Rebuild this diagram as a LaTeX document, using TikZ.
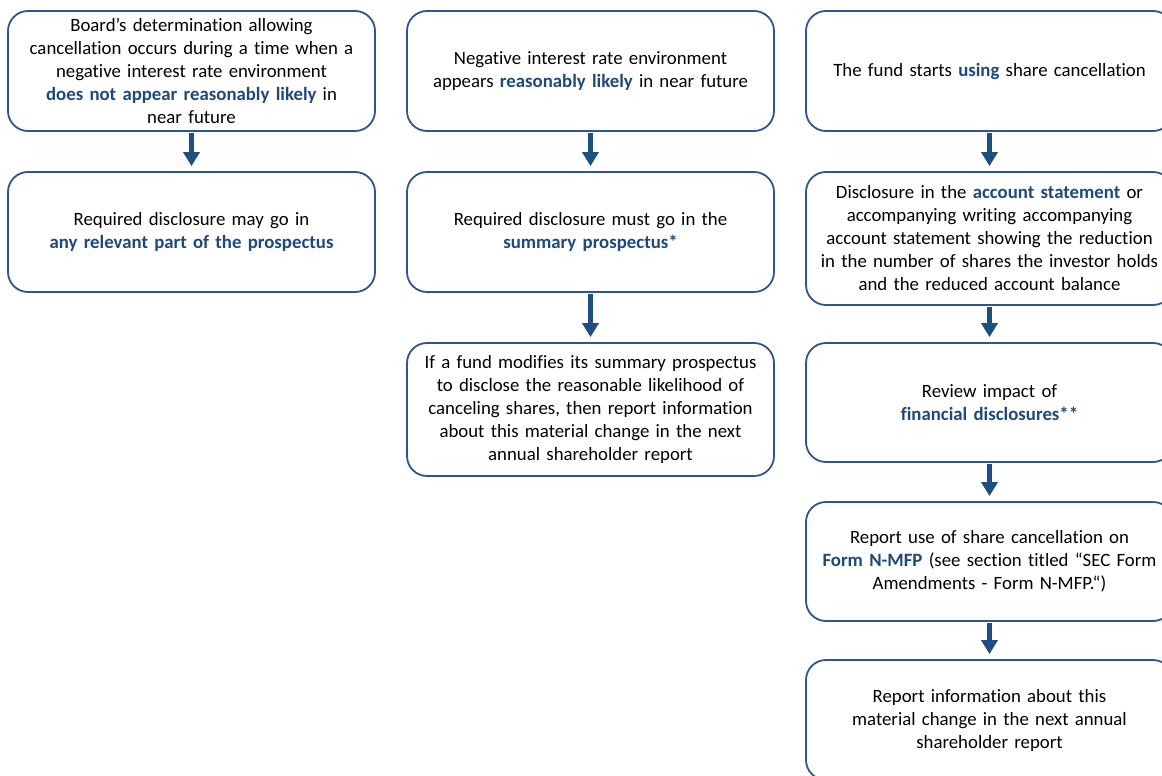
\documentclass[tikz,border=0pt]{standalone}
\usepackage{fontspec}
\setmainfont[Ligatures=NoCommon]{Carlito}
\usetikzlibrary{arrows.meta}
\definecolor{boxblue}{RGB}{47,85,140}
\definecolor{arrblue}{RGB}{31,78,130}
\definecolor{hlblue}{RGB}{31,73,125}
\newcommand\hl[1]{\textcolor{hlblue}{\bfseries #1}}
\tikzset{
  box/.style={draw=boxblue, line width=1.8pt, rounded corners=20pt, minimum width=367pt, fill=white,
    text width=362pt, align=center, font=\fontsize{18.8pt}{23pt}\selectfont, inner sep=0pt},
  arr/.style={draw=arrblue, line width=5pt, -{Triangle[width=16pt,length=14pt]}, shorten >=5pt, shorten <=1pt}
}
\begin{document}
\begin{tikzpicture}[x=1pt,y=-1pt]
\useasboundingbox (0,0) rectangle (1162,776);
\clip (0,0) rectangle (1162,776);
% column 1
\node[box, minimum height=120pt] (a1) at (191.5,71) {Board’s determination allowing\\cancellation occurs during a time when a\\negative interest rate environment\\\hl{does not appear reasonably likely} in\\near future};
\node[box, minimum height=120pt] (a2) at (191.5,232) {Required disclosure may go in\\\hl{any relevant part of the prospectus}};
% column 2
\node[box, minimum height=120pt] (b1) at (590.5,71) {Negative interest rate environment\\appears \hl{reasonably likely} in near future};
\node[box, minimum height=120pt] (b2) at (590.5,232) {Required disclosure must go in the\\\hl{summary prospectus*}};
\node[box, minimum height=133pt] (b3) at (590.5,409.5) {If a fund modifies its summary prospectus\\to disclose the reasonable likelihood of\\canceling shares, then report information\\about this material change in the next\\annual shareholder report};
% column 3
\node[box, minimum height=120pt] (c1) at (989.5,71) {The fund starts \hl{using} share cancellation};
\node[box, minimum height=133pt] (c2) at (989.5,238.5) {Disclosure in the \hl{account statement} or\\accompanying writing accompanying\\account statement showing the reduction\\in the number of shares the investor holds\\and the reduced account balance};
\node[box, minimum height=119pt] (c3) at (989.5,402.5) {Review impact of\\\hl{financial disclosures**}};
\node[box, minimum height=119pt] (c4) at (989.5,561.5) {Report use of share cancellation on\\\hl{Form N-MFP} (see section titled “SEC Form\\Amendments - Form N-MFP.“)};
\node[box, minimum height=120pt] (c5) at (989.5,720) {Report information about this\\material change in the next annual\\shareholder report};
% arrows
\draw[arr] (a1.south) -- (a2.north);
\draw[arr] (b1.south) -- (b2.north);
\draw[arr] (b2.south) -- (b3.north);
\draw[arr] (c1.south) -- (c2.north);
\draw[arr] (c2.south) -- (c3.north);
\draw[arr] (c3.south) -- (c4.north);
\draw[arr] (c4.south) -- (c5.north);
\end{tikzpicture}
\end{document}
